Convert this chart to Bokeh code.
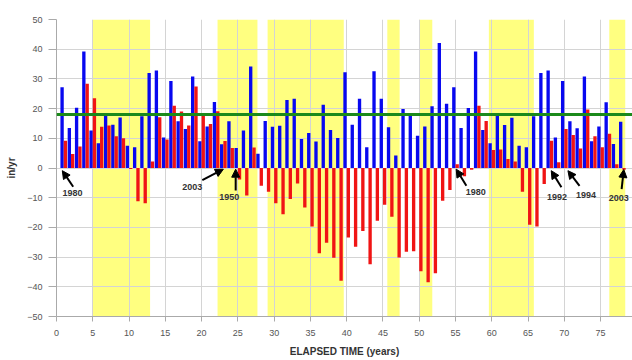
from bokeh.plotting import figure
from bokeh.models import (Span, Arrow, NormalHead, Label, ColumnDataSource,
                          SingleIntervalTicker)
from bokeh.transform import dodge
from bokeh.embed import file_html
from bokeh.resources import INLINE

# ---- data ----
years = list(range(1, 79))
annual = [27.2, 13.5, 20.3, 39.2, 12.6, 8.3, 18.1, 14.6, 17.0, 7.5, 7.0, 17.4, 32.0,
          32.8, 10.3, 29.3, 15.7, 13.1, 30.8, 9.0, 14.0, 22.2, 8.0, 15.7,
          6.7, 12.6, 34.2, 4.8, 15.8, 13.9, 14.2, 22.9, 23.3, 9.8, 11.8, 8.9, 21.3, 12.8, 10.1,
          32.2, 14.6, 23.3, 7.0, 32.6, 23.3, 13.7, 4.2, 19.9, 17.9, 10.9, 14.0, 20.8, 42.1,
          21.6, 27.2, 13.5, 20.2, 39.2, 12.8, 8.3, 18.0, 14.5, 16.9, 7.5, 7.0, 17.4,
          32.0, 32.8, 10.3, 29.3, 15.7, 13.4, 30.8, 9.0, 14.0, 22.1, 8.1, 15.6]
cumulative = [9.2, 4.7, 7.2, 28.4, 23.5, 13.9, 14.3, 10.7, 10.0, -0.3, -11.2, -11.9, 2.2,
              17.1, 9.6, 21.0, 19.0, 14.3, 27.4, 18.4, 14.8, 19.1, 9.1, 6.7,
              -3.9, -9.3, 6.9, -6.0, -8.0, -11.9, -15.6, -10.4, -5.2, -13.3, -19.7, -28.7, -25.2, -30.2, -38.0,
              -23.4, -26.5, -21.2, -32.4, -17.8, -12.4, -16.4, -30.1, -28.2, -28.0, -34.8, -38.5, -35.4, -11.0,
              -7.4, 1.3, -2.8, -0.6, 21.0, 15.8, 6.1, 6.2, 3.0, 2.2, -8.0, -19.1, -19.7,
              -5.4, 9.2, 1.9, 13.1, 11.1, 6.6, 19.7, 10.7, 7.0, 11.5, 1.3, -0.6]
mean_annual = 18.0

dry_start = [5.0, 22.2, 29.1, 45.6, 50.0, 59.6, 76.2]
dry_end = [12.9, 27.7, 39.6, 47.3, 51.8, 65.8, 78.4]

ann_text = ["1980", "2003", "1950", "1980", "1992", "1994", "2003"]
ann_tx = [2.2, 18.7, 23.8, 57.8, 69.0, 73.0, 77.5]
ann_ty = [-8.5, -6.4, -9.9, -8.0, -9.9, -9.1, -10.2]
arr_x0 = [2.3, 20.1, 24.7, 56.5, 69.6, 72.1, 77.9]
arr_y0 = [-6.3, -4.1, -7.6, -6.0, -6.5, -6.0, -7.1]
arr_x1 = [0.8, 23.0, 24.7, 55.1, 68.2, 70.5, 78.2]
arr_y1 = [-0.9, -0.4, -0.4, -0.4, -0.9, -0.9, -0.5]

src = ColumnDataSource(dict(year=years, annual=annual, cum=cumulative))

p = figure(width=632, height=360, x_range=(0, 79.4), y_range=(-50, 50),
           output_backend="svg", toolbar_location=None,
           min_border_left=56, min_border_right=0, min_border_top=19, min_border_bottom=44)
p.outline_line_color = None
p.background_fill_color = "white"

# dry-period bands (below grid)
p.quad(left=dry_start, right=dry_end, bottom=-50, top=50, fill_color="#ffff80",
       line_color=None, level="image")

p.vbar(x=dodge("year", -0.23, range=p.x_range), top="annual", bottom=0, width=0.46,
       source=src, fill_color="#0808f0", line_color=None)
p.vbar(x=dodge("year", 0.23, range=p.x_range), top="cum", bottom=0, width=0.46,
       source=src, fill_color="#f01414", line_color=None)

p.add_layout(Span(location=mean_annual, dimension="width", line_color="#1b8a1b",
                  line_width=3))

font = "Liberation Sans"
for t, tx, ty in zip(ann_text, ann_tx, ann_ty):
    p.add_layout(Label(x=tx, y=ty, text=t, text_align="center", text_baseline="middle",
                       text_font=font, text_font_size="9px", text_font_style="bold",
                       text_color="#333333"))
for a, b, c, d in zip(arr_x0, arr_y0, arr_x1, arr_y1):
    p.add_layout(Arrow(end=NormalHead(size=8, fill_color="black", line_color="black"),
                       x_start=a, y_start=b, x_end=c, y_end=d,
                       line_color="black", line_width=2))

p.add_layout(Label(x=0.3, y=50, y_offset=3, text="SHOWING LOCALLY DRY YEARS",
                   text_baseline="bottom", text_font=font, text_font_size="10px",
                   text_font_style="bold", text_color="#333333"))

p.xaxis.ticker = SingleIntervalTicker(interval=5)
p.yaxis.ticker = SingleIntervalTicker(interval=10)
p.xgrid.ticker = SingleIntervalTicker(interval=5)
p.ygrid.ticker = SingleIntervalTicker(interval=10)
p.grid.grid_line_color = "#d4d4d4"
p.grid.grid_line_width = 1

for ax in (p.xaxis, p.yaxis):
    ax.minor_tick_line_color = None
    ax.axis_line_color = "#aaaaaa"
    ax.major_tick_line_color = "#aaaaaa"
    ax.major_tick_in = 0
    ax.major_label_text_font = font
    ax.major_label_text_font_size = "9px"
    ax.major_label_text_color = "#555555"
    ax.axis_label_text_font = font
    ax.axis_label_text_font_size = "10px"
    ax.axis_label_text_font_style = "bold"
    ax.axis_label_text_color = "#333333"

p.xaxis.axis_label = "ELAPSED TIME (years)"
p.xaxis.major_tick_out = 5
p.xaxis.major_label_standoff = 8
p.xaxis.axis_label_standoff = 7
p.yaxis.axis_label = "in/yr"
p.yaxis.major_tick_out = 8
p.yaxis.major_label_standoff = 6
p.yaxis.axis_label_standoff = 7

open("out.html", "w").write(file_html(p, INLINE))
